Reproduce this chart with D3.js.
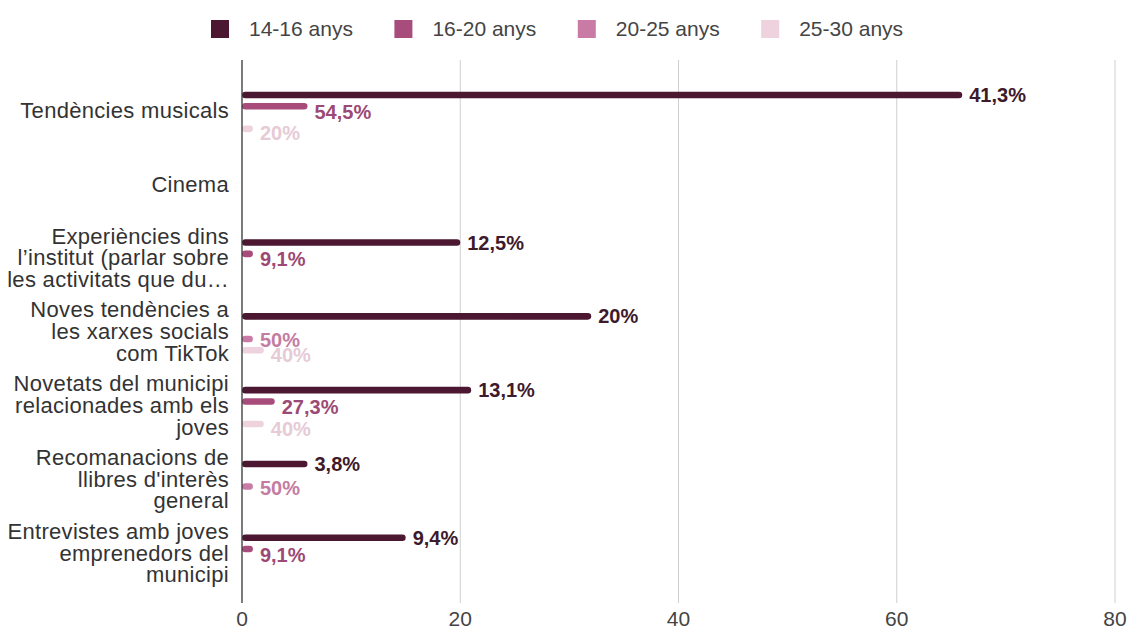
<!DOCTYPE html>
<html>
<head>
<meta charset="utf-8">
<script src="https://cdn.jsdelivr.net/npm/d3@7"></script>
<style>
  html, body { margin: 0; padding: 0; background: #fff; }
  svg text { font-family: "Liberation Sans", Arial, sans-serif; }
</style>
</head>
<body>
<svg id="chart" width="1128" height="632"></svg>
<script>
// Topics (line breaks as shown on the axis)
const categories = [
  "Tendències musicals",
  "Cinema",
  "Experiències dins\nl’institut (parlar sobre\nles activitats que du…",
  "Noves tendències a\nles xarxes socials\ncom TikTok",
  "Novetats del municipi\nrelacionades amb els\njoves",
  "Recomanacions de\nllibres d'interès\ngeneral",
  "Entrevistes amb joves\nemprenedors del\nmunicipi"
];

const seriesNames = ["14-16 anys", "16-20 anys", "20-25 anys", "25-30 anys"];

// Number of answers per age group
const answers1416 = [66, 0, 20, 32, 21, 6, 15];
const answers1620 = [6, 0, 1, 0, 3, 0, 1];
const answers2025 = [0, 0, 0, 1, 0, 1, 0];
const answers2530 = [1, 0, 0, 2, 2, 0, 0];

const xTicks = [0, 20, 40, 60, 80];

const barColors   = ["#4b1731", "#a84c7c", "#c97ba5", "#eed2dd"];
const labelColors = ["#3e1a2a", "#9c4a75", "#c47ca2", "#e6cbd6"];
// vertical nudge of the value labels for each series
const labelShift  = [0, 5.5, 1, 4.5];

const seriesValues = [answers1416, answers1620, answers2025, answers2530];

const svg = d3.select("#chart");
const plotLeft = 242, plotRight = 1115, plotTop = 60, plotBottom = 603;
const bandTop = 75, bandBottom = 591.6;

const x = d3.scaleLinear().domain([0, 80]).range([plotLeft, plotRight]);
const y = d3.scaleBand().domain(d3.range(categories.length)).range([bandTop, bandBottom]);
const inner = d3.scaleBand().domain(d3.range(seriesNames.length))
  .range([y.bandwidth() / 2 - 22.6, y.bandwidth() / 2 + 22.6]);

// Legend
const legend = svg.append("g");
seriesNames.forEach((name, i) => {
  const gx = 211 + i * 183.4;
  legend.append("rect").attr("x", gx).attr("y", 20).attr("width", 18).attr("height", 18)
    .attr("fill", barColors[i]);
  legend.append("text").attr("x", gx + 38).attr("y", 36).attr("font-size", 21)
    .attr("fill", "#444").text(name);
});

// Gridlines and tick labels
svg.append("g").selectAll("line").data(xTicks.slice(1)).join("line")
  .attr("x1", d => x(d)).attr("x2", d => x(d))
  .attr("y1", plotTop).attr("y2", plotBottom)
  .attr("stroke", "#cfcfcf").attr("stroke-width", 1);

svg.append("g").selectAll("text").data(xTicks).join("text")
  .attr("x", d => x(d)).attr("y", 626).attr("text-anchor", "middle")
  .attr("font-size", 21).attr("fill", "#444").text(d => d);

// Category labels
const catG = svg.append("g");
categories.forEach((c, i) => {
  const lines = c.split("\n");
  const cy = y(i) + y.bandwidth() / 2 - 2;
  const lh = 21.7;
  const t = catG.append("text").attr("text-anchor", "end").attr("font-size", 22)
    .attr("letter-spacing", 0.3).attr("fill", "#333");
  lines.forEach((ln, k) => {
    t.append("tspan").attr("x", 229)
      .attr("y", cy + (k - (lines.length - 1) / 2) * lh + 7.8)
      .text(ln);
  });
});

// Share of each age group's answers
const fmt = v => {
  const s = v.toFixed(1).replace(/\.0$/, "").replace(".", ",");
  return s + "%";
};

const barH = 6.6;
seriesValues.forEach((vals, s) => {
  const total = d3.sum(vals);
  const rows = vals.map((v, i) => ({ v, i })).filter(d => d.v > 0);
  const g = svg.append("g");
  g.selectAll("rect").data(rows).join("rect")
    .attr("x", x(0))
    .attr("y", d => y(d.i) + inner(s) + inner.bandwidth() / 2 - barH / 2)
    .attr("width", d => x(d.v) - x(0))
    .attr("height", barH)
    .attr("rx", barH / 2)
    .attr("fill", barColors[s]);
  g.selectAll("text").data(rows).join("text")
    .attr("x", d => x(d.v) + 7)
    .attr("y", d => y(d.i) + inner(s) + inner.bandwidth() / 2 + labelShift[s] + 7)
    .attr("font-size", 20).attr("font-weight", "bold")
    .attr("fill", labelColors[s])
    .text(d => fmt(d.v / total * 100));
});

// Baseline at zero
svg.append("line").attr("x1", x(0)).attr("x2", x(0)).attr("y1", plotTop).attr("y2", plotBottom)
  .attr("stroke", "#333").attr("stroke-width", 1.3);
</script>
</body>
</html>
